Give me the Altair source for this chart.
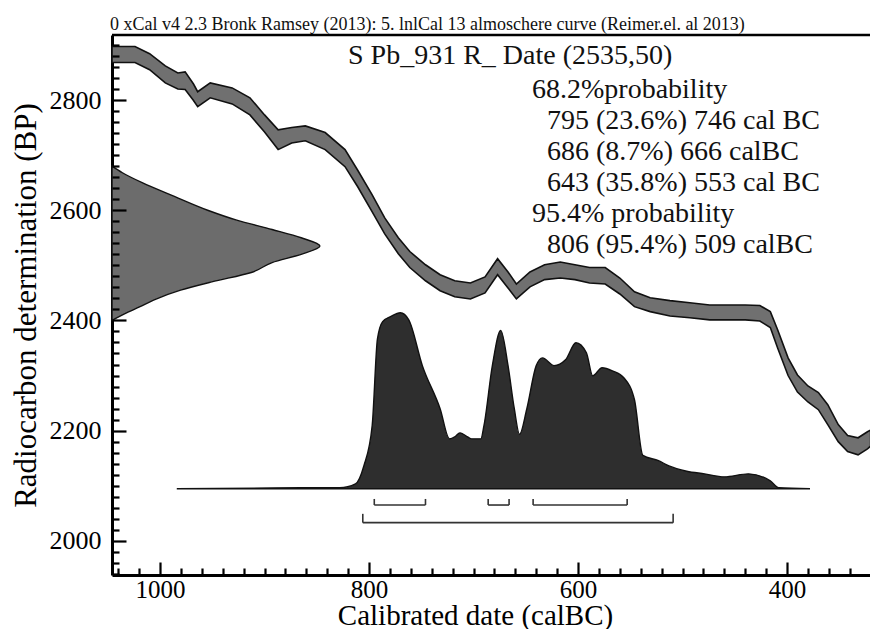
import altair as alt
import pandas as pd

FONT = "Liberation Serif"

# ---------------- data ----------------
caption = "0 xCal v4 2.3 Bronk Ramsey (2013): 5. lnlCal 13 almoschere curve (Reimer.el. al 2013)"
sample_label = "S Pb_931 R_ Date (2535,50)"
prob_lines = [
    "68.2%probability",
    "795 (23.6%) 746 cal BC",
    "686 (8.7%) 666 calBC",
    "643 (35.8%) 553 cal BC",
    "95.4% probability",
    "806 (95.4%) 509 calBC",
]

# calibration curve band (cal BC, BP upper / lower edge)
curve_year = [1046, 1024, 1010, 995, 983, 976, 968, 964, 952, 931, 914, 900, 887, 874, 861,
              842, 823, 811, 797, 785, 772, 761, 746, 732, 718, 703, 689, 677, 667, 659,
              646, 632, 617, 603, 589, 574, 560, 546, 531, 512, 493, 474, 455, 440, 426,
              416, 409, 399, 390, 380, 370, 361, 351, 342, 332, 323, 320]
curve_upper = [2897, 2897, 2884, 2862, 2849, 2851, 2829, 2815, 2831, 2822, 2804, 2773, 2746, 2750, 2753,
               2741, 2710, 2673, 2628, 2586, 2550, 2525, 2501, 2483, 2472, 2468, 2479, 2512, 2488, 2466,
               2488, 2501, 2506, 2501, 2496, 2496, 2477, 2452, 2441, 2436, 2432, 2428, 2428, 2428, 2427,
               2416, 2383, 2332, 2301, 2281, 2269, 2247, 2211, 2191, 2187, 2198, 2201]
curve_lower = [2868, 2868, 2855, 2831, 2820, 2819, 2799, 2788, 2804, 2793, 2773, 2742, 2710, 2722, 2726,
               2710, 2679, 2643, 2597, 2557, 2521, 2496, 2472, 2454, 2443, 2439, 2450, 2483, 2459, 2439,
               2461, 2474, 2477, 2474, 2468, 2466, 2448, 2425, 2416, 2408, 2405, 2401, 2401, 2401, 2399,
               2387, 2350, 2300, 2270, 2252, 2238, 2211, 2180, 2162, 2156, 2167, 2172]

# calibrated date probability (cal BC, relative probability)
dist_year = [984, 866, 828, 813, 805, 797, 792, 787, 779, 770,
             762, 749, 732, 723, 718, 713, 707, 702, 693, 690,
             682, 674, 667, 661, 656, 649, 640, 634, 623, 612,
             602, 592, 586, 577, 567, 556, 546, 538, 523, 513,
             496, 479, 460, 437, 416, 408, 378]
dist_prob = [0, 0.006, 0.006, 0.028, 0.13, 0.36, 0.85, 0.95, 0.98, 1.0,
             0.96, 0.70, 0.455, 0.284, 0.295, 0.318, 0.30, 0.284, 0.284, 0.36,
             0.70, 0.90, 0.70, 0.455, 0.31, 0.455, 0.70, 0.744, 0.70, 0.733,
             0.83, 0.773, 0.642, 0.688, 0.67, 0.63, 0.506, 0.19, 0.16, 0.13,
             0.10, 0.085, 0.068, 0.085, 0.045, 0.006, 0]

# radiocarbon measurement 2535 +/- 50 BP (BP, relative probability)
c14_bp = [2680, 2668, 2650, 2625, 2600, 2582, 2565, 2550, 2535, 2520, 2505, 2487, 2470, 2455, 2437, 2425, 2412, 2400]
c14_prob = [0, 0.05, 0.145, 0.30, 0.46, 0.60, 0.77, 0.91, 1.0, 0.91, 0.77, 0.67, 0.48, 0.33, 0.20, 0.135, 0.06, 0]

# probability ranges (from, to) cal BC
range68 = [(795, 746), (686, 666), (643, 553)]
range95 = [(806, 509)]

x_major = [1000, 800, 600, 400]
y_major = [2000, 2200, 2400, 2600, 2800]

# ---------------- layout ----------------
W, H = 758, 540
X_LEFT, X_RIGHT = 1046, 320.6
Y_MIN, Y_MAX = 1938, 2918
DIST_BASE, DIST_SCALE = 2094.4, 319.4     # BP baseline / peak height of calibrated plot
C14_SCALE = 199                            # years width of measurement peak
R68_BP, R68_TICK = 2065, 2076
R95_BP, R95_TICK = 2033, 2049

x_all_ticks = sorted(x_major + [v for v in range(340, 1041, 20) if v % 200 != 0])
y_all_ticks = sorted(y_major + [v for v in range(1940, 2901, 20) if v % 200 != 0])

XS = alt.Scale(domain=[X_RIGHT, X_LEFT], reverse=True, nice=False, zero=False)
YS = alt.Scale(domain=[Y_MIN, Y_MAX], nice=False, zero=False)

X_AXIS = alt.Axis(values=x_major, format="d", ticks=False, grid=False, domainColor="black",
                  domainWidth=3, labelFont=FONT, labelFontSize=25, labelColor="black",
                  labelPadding=2, title="Calibrated date (calBC)", titleFont=FONT,
                  titleFontSize=29, titleFontWeight="normal", titleColor="black",
                  titleBaseline="alphabetic", titleY=49, titleX=363, labelFlush=False)
Y_AXIS = alt.Axis(values=y_major, format="d", ticks=False, grid=False, domainColor="black",
                  domainWidth=3, labelFont=FONT, labelFontSize=26, labelColor="black",
                  labelPadding=11, title="Radiocarbon determination (BP)", titleFont=FONT,
                  titleFontSize=31, titleFontWeight="normal", titleColor="black",
                  titlePadding=7)

# inner tick axes: placed on the opposite side and shifted onto the plot edge
X_TICK_AXIS = alt.Axis(orient="top", offset=-H, values=x_all_ticks, labels=False, domain=False,
                       grid=False, ticks=True, tickColor="black", tickWidth=2.2,
                       tickSize={"condition": {"test": "datum.value % 200 === 0", "value": 13}, "value": 7},
                       title=None, zindex=1)
Y_TICK_AXIS = alt.Axis(orient="right", offset=-W, values=y_all_ticks, labels=False, domain=False,
                       grid=False, ticks=True, tickColor="black", tickWidth=2.2,
                       tickSize={"condition": {"test": "datum.value % 200 === 0", "value": 14}, "value": 7},
                       title=None, zindex=1)


def X(field):
    return alt.X(field, type="quantitative", scale=XS, axis=X_AXIS, stack=None)


def Y(field):
    return alt.Y(field, type="quantitative", scale=YS, axis=Y_AXIS, stack=None)


curve_df = pd.DataFrame({"year": curve_year, "hi": curve_upper, "lo": curve_lower})
dist_df = pd.DataFrame({"year": dist_year, "p": dist_prob})
dist_df["bp"] = DIST_BASE + dist_df["p"] * DIST_SCALE
dist_df["base"] = DIST_BASE
c14_df = pd.DataFrame({"bp": c14_bp, "p": c14_prob})
c14_df["xl"] = X_LEFT - c14_df["p"] * C14_SCALE
c14_df["xb"] = X_LEFT

band = alt.Chart(curve_df).mark_area(fill="#707070", stroke="#111", strokeWidth=1.6).encode(
    x=X("year"), y=Y("hi"), y2="lo")

dist = alt.Chart(dist_df).mark_area(fill="#2e2e2e", stroke="#111", strokeWidth=1.4,
                                    interpolate="monotone").encode(
    x=X("year"), y=Y("bp"), y2="base")

c14 = alt.Chart(c14_df).mark_area(orient="horizontal", fill="#6c6c6c", stroke="#111",
                                  strokeWidth=1.4, interpolate="monotone").encode(
    y=Y("bp"), x=X("xl"), x2="xb")

# probability range brackets
br_h = pd.DataFrame({"a": [r[0] for r in range68] + [r[0] for r in range95],
                     "b": [r[1] for r in range68] + [r[1] for r in range95],
                     "lv": [R68_BP] * len(range68) + [R95_BP] * len(range95)})
br_v = pd.DataFrame({"a": [v for r in range68 for v in r] + [v for r in range95 for v in r],
                     "lv": [R68_BP] * (2 * len(range68)) + [R95_BP] * (2 * len(range95)),
                     "tk": [R68_TICK] * (2 * len(range68)) + [R95_TICK] * (2 * len(range95))})
rng_h = alt.Chart(br_h).mark_rule(color="#333", strokeWidth=1.6).encode(
    x=X("a"), x2="b", y=Y("lv"))
rng_v = alt.Chart(br_v).mark_rule(color="#333", strokeWidth=1.6).encode(
    x=X("a"), y=Y("lv"), y2="tk")

one = pd.DataFrame({"k": [0]})
top_rule = alt.Chart(one).mark_rule(color="black", strokeWidth=2.5).encode(
    x=alt.value(0), x2=alt.value(W), y=alt.value(0))


def label(txt, px, py, size, color="#111"):
    return alt.Chart(pd.DataFrame({"t": [txt]})).mark_text(
        align="left", baseline="alphabetic", font=FONT, fontSize=size, color=color).encode(
        text="t:N", x=alt.value(px), y=alt.value(py))


texts = [label(caption, -2, -5, 18), label(sample_label, 236, 29, 28)]
line_x = [420, 435, 435, 435, 420, 435]
line_y = [63, 94, 125, 156, 187, 218]
for t, px, py in zip(prob_lines, line_x, line_y):
    texts.append(label(t, px, py, 28))

main = alt.layer(band, c14, dist, rng_h, rng_v, top_rule, *texts)

# invisible carriers for the inner-tick axes
xtick_layer = alt.Chart(pd.DataFrame({"v": x_all_ticks})).mark_point(opacity=0, size=1).encode(
    x=alt.X("v:Q", scale=XS, axis=X_TICK_AXIS), y=alt.value(H))
ytick_layer = alt.Chart(pd.DataFrame({"v": y_all_ticks})).mark_point(opacity=0, size=1).encode(
    y=alt.Y("v:Q", scale=YS, axis=Y_TICK_AXIS), x=alt.value(0))

chart = alt.layer(main, xtick_layer, ytick_layer).resolve_axis(
    x="independent", y="independent"
).properties(
    width=W, height=H,
    padding={"left": 104, "top": 27, "right": 0, "bottom": 54},
    autosize=alt.AutoSizeParams(type="none"),
    background="white",
).configure_view(stroke=None)

chart.save("out.html", embed_options={"renderer": "svg", "actions": False})
